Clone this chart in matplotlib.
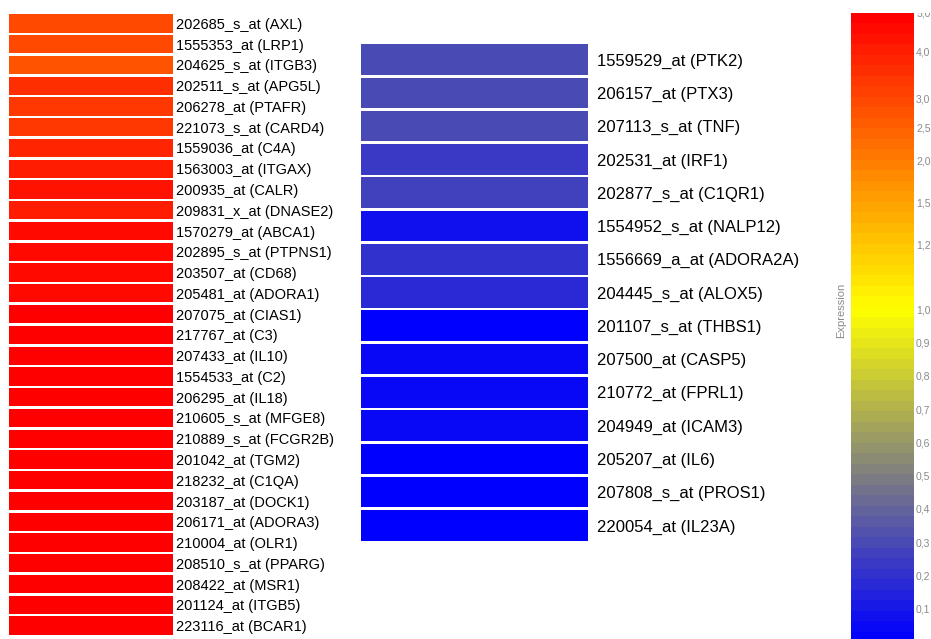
import numpy as np
import matplotlib
matplotlib.use('Agg')
import matplotlib.pyplot as plt
from matplotlib.colors import LinearSegmentedColormap
from matplotlib.transforms import Bbox, TransformedBbox

plt.rcParams['font.family'] = ['Liberation Sans', 'DejaVu Sans']

# ---------------- data ----------------
left_labels = [
    "202685_s_at (AXL)", "1555353_at (LRP1)", "204625_s_at (ITGB3)", "202511_s_at (APG5L)",
    "206278_at (PTAFR)", "221073_s_at (CARD4)", "1559036_at (C4A)", "1563003_at (ITGAX)",
    "200935_at (CALR)", "209831_x_at (DNASE2)", "1570279_at (ABCA1)", "202895_s_at (PTPNS1)",
    "203507_at (CD68)", "205481_at (ADORA1)", "207075_at (CIAS1)", "217767_at (C3)",
    "207433_at (IL10)", "1554533_at (C2)", "206295_at (IL18)", "210605_s_at (MFGE8)",
    "210889_s_at (FCGR2B)", "201042_at (TGM2)", "218232_at (C1QA)", "203187_at (DOCK1)",
    "206171_at (ADORA3)", "210004_at (OLR1)", "208510_s_at (PPARG)", "208422_at (MSR1)",
    "201124_at (ITGB5)", "223116_at (BCAR1)",
]
left_values = [
    2.87, 2.87, 2.67, 3.70, 3.33, 3.33, 3.83, 4.08, 4.25, 4.08,
    4.55, 4.55, 4.62, 4.70, 4.77, 4.85, 4.85, 4.94, 5.0, 5.0,
    5.0, 5.0, 5.0, 5.0, 5.0, 5.0, 5.0, 5.0, 5.0, 5.0,
]
mid_labels = [
    "1559529_at (PTK2)", "206157_at (PTX3)", "207113_s_at (TNF)", "202531_at (IRF1)",
    "202877_s_at (C1QR1)", "1554952_s_at (NALP12)", "1556669_a_at (ADORA2A)",
    "204445_s_at (ALOX5)", "201107_s_at (THBS1)", "207500_at (CASP5)", "210772_at (FPRL1)",
    "204949_at (ICAM3)", "205207_at (IL6)", "207808_s_at (PROS1)", "220054_at (IL23A)",
]
mid_values = [0.31, 0.31, 0.31, 0.25, 0.28, 0.09, 0.19, 0.17, 0.02, 0.05, 0.05, 0.04, 0.02, 0.03, 0.0]

# colour-scale anchors (value -> position along the colour bar)
scale_values = [0.0, 1.0, 1.2, 1.5, 2.0, 2.5, 3.0, 4.0, 5.0]
scale_positions = [0.0, 0.529, 0.632, 0.699, 0.765, 0.818, 0.864, 0.939, 1.0]
tick_values = [0.0, 0.1, 0.2, 0.3, 0.4, 0.5, 0.6, 0.7, 0.8, 0.9, 1.0, 1.2, 1.5, 2.0, 2.5, 3.0, 4.0, 5.0]
tick_labels = ["0,0", "0,1", "0,2", "0,3", "0,4", "0,5", "0,6", "0,7", "0,8", "0,9", "1,0",
               "1,2", "1,5", "2,0", "2,5", "3,0", "4,0", "5,0"]


def fwd(v):
    return np.interp(v, scale_values, scale_positions)


def inv(t):
    return np.interp(t, scale_positions, scale_values)


NB = 60
cmap = LinearSegmentedColormap.from_list(
    "expr", [(0.0, "#0000ff"), (scale_positions[1], "#ffff00"), (1.0, "#ff0000")], N=NB)

W, H = 931, 639
fig = plt.figure(figsize=(W / 100, H / 100), dpi=100)


def fax(x0, y0, x1, y1):
    return fig.add_axes([x0 / W, 1 - y1 / H, (x1 - x0) / W, (y1 - y0) / H])


def bar_panel(ax, labels, values, height, fsize, pad):
    n = len(labels)
    cols = cmap(fwd(np.array(values)))
    ax.barh(np.arange(n), [1] * n, height=height, color=cols, left=0)
    ax.set_xlim(0, 1)
    ax.set_ylim(n - 0.5, -0.5)
    for s in ax.spines.values():
        s.set_visible(False)
    ax.set_xticks([])
    ax.yaxis.tick_right()
    ax.set_yticks(np.arange(n))
    ax.set_yticklabels(labels, fontsize=fsize)
    ax.tick_params(axis='y', length=0, pad=pad, colors='black')
    ax.patch.set_visible(False)


axL = fax(9, 13, 173, 636)
bar_panel(axL, left_labels, left_values, 0.88, 10.5, 2.2)

axM = fax(361, 43, 588, 542)
bar_panel(axM, mid_labels, mid_values, 0.92, 12, 6.5)

# colour bar
cax = fax(851, 13, 914, 642)
cax.set_yscale('function', functions=(fwd, inv))
t_edges = np.linspace(0, 1, NB + 1)
v_edges = inv(t_edges)
t_mid = (t_edges[:-1] + t_edges[1:]) / 2
cax.pcolormesh([0, 1], v_edges, t_mid.reshape(-1, 1), cmap=cmap, vmin=0, vmax=1, shading='flat')
cax.set_xlim(0, 1)
cax.set_ylim(0, 5)
cax.set_xticks([])
cax.yaxis.tick_right()
cax.set_yticks(tick_values)
cax.set_yticklabels(tick_labels, fontsize=7.5, color='#8a8a8a')
cax.yaxis.set_minor_locator(matplotlib.ticker.NullLocator())
cax.tick_params(axis='y', length=0, pad=1.5)
for s in cax.spines.values():
    s.set_visible(False)

clip = TransformedBbox(Bbox([[0.85, -0.1], [1.0, 1 - 13 / H]]), fig.transFigure)
for tk in cax.yaxis.get_major_ticks():
    tk.label2.set_clip_box(clip)
    tk.label2.set_clip_on(True)

fig.text(841 / W, 1 - 310 / H, "Expression", rotation=90, ha='center', va='center',
         fontsize=8, color='#8a8a8a', family=['Liberation Sans Narrow', 'Liberation Sans', 'DejaVu Sans'])

fig.savefig("out.png", dpi=100)
